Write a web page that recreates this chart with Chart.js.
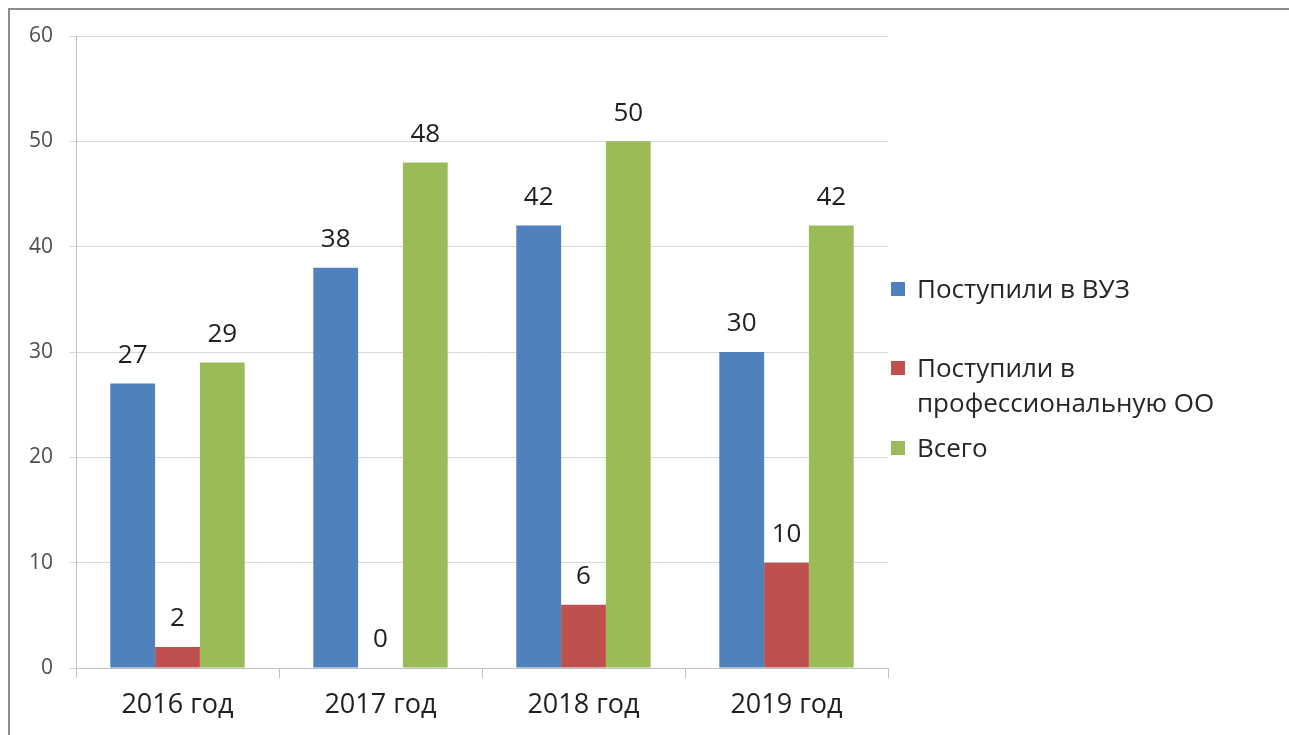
<!DOCTYPE html>
<html>
<head>
<meta charset="utf-8">
<script src="https://cdn.jsdelivr.net/npm/chart.js@4"></script>
<style>
    html, body { margin: 0; background: #fff; font-family: "Open Sans", sans-serif; overflow: hidden; }
    #frame { position: absolute; left: 8px; top: 8px; width: 1400px; height: 800px;
             border-left: 2px solid #8c8c8c; border-top: 2px solid #8c8c8c; }
    #chart { position: absolute; left: 0; top: 0; }
    .legend-item { position: absolute; left: 891px; width: 340px; color: #262626;
                   font-size: 26px; line-height: 35px; }
    .legend-item span.box { position: absolute; left: 0; width: 14px; height: 14px; }
    .legend-item span.text { display: block; margin-left: 26px; }
</style>
</head>
<body>
<div id="frame"></div>
<canvas id="chart" width="1289" height="735"></canvas>
<div id="legend"></div>
<script>
// Data
const categories = ['2016 год', '2017 год', '2018 год', '2019 год'];
const seriesNames = ['Поступили в ВУЗ', 'Поступили в профессиональную ОО', 'Всего'];
const vuzValues = [27, 38, 42, 30];
const profValues = [2, 0, 6, 10];
const totalValues = [29, 48, 50, 42];
const yTicks = [0, 10, 20, 30, 40, 50, 60];

const seriesColors = ['#4F81BD', '#C0504D', '#9BBB59'];
const seriesValues = [vuzValues, profValues, totalValues];

// value labels above the bars
const barLabels = {
    id: 'barLabels',
    afterDatasetsDraw(chart) {
        const ctx = chart.ctx;
        ctx.save();
        ctx.font = '26px "Open Sans"';
        ctx.fillStyle = '#1f1f1f';
        ctx.textAlign = 'center';
        ctx.textBaseline = 'middle';
        chart.data.datasets.forEach((ds, i) => {
            chart.getDatasetMeta(i).data.forEach((bar, j) => {
                ctx.fillText(String(ds.data[j]), bar.x, bar.y - 28);
            });
        });
        ctx.restore();
    }
};

let datasets = [];
for (let i = 0; i < seriesNames.length; i++) {
    datasets.push({
        label: seriesNames[i],
        data: seriesValues[i],
        backgroundColor: seriesColors[i],
        borderWidth: 0,
        categoryPercentage: 0.662,
        barPercentage: 1.0,
    });
}

new Chart(document.getElementById('chart'), {
    type: 'bar',
    data: { labels: categories, datasets: datasets },
    options: {
        responsive: false,
        animation: false,
        layout: { padding: { top: 36, right: 401, bottom: 0, left: 0 } },
        plugins: {
            legend: { display: false },
            tooltip: { enabled: false },
        },
        scales: {
            x: {
                afterFit: (scale) => { scale.height = 67; },
                grid: { offset: true, drawOnChartArea: false, tickLength: 10, color: '#bfbfbf' },
                border: { color: '#bfbfbf' },
                ticks: { color: '#1f1f1f', font: { family: 'Open Sans', size: 27 }, padding: 11 },
            },
            y: {
                min: 0,
                max: 60,
                afterFit: (scale) => { scale.width = 76; },
                afterBuildTicks: (scale) => { scale.ticks = yTicks.map(v => ({ value: v })); },
                grid: { color: '#d9d9d9', tickLength: 7 },
                border: { color: '#bfbfbf' },
                ticks: { color: '#4d4d4d', font: { family: 'Open Sans', size: 21 }, padding: 16 },
            }
        }
    },
    plugins: [barLabels]
});

// legend on the right
const legendTops = [271, 350, 430];
const legendEl = document.getElementById('legend');
seriesNames.forEach((name, i) => {
    const item = document.createElement('div');
    item.className = 'legend-item';
    item.style.top = legendTops[i] + 'px';
    item.innerHTML = '<span class="box" style="top:11px;background:' + seriesColors[i] + '"></span>' +
                     '<span class="text">' + name + '</span>';
    legendEl.append(item);
});
</script>
</body>
</html>
